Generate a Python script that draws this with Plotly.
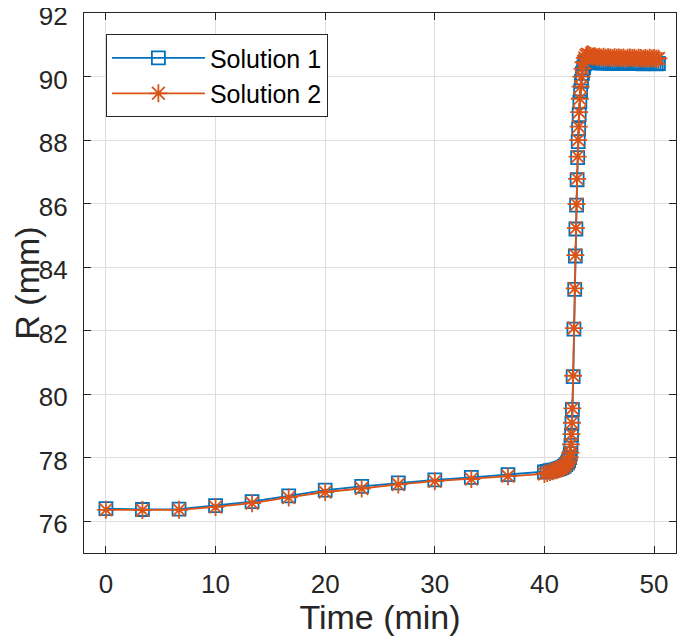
import plotly.graph_objects as go

time_min = [0, 3.33, 6.67, 10, 13.33, 16.67, 20, 23.33, 26.67, 30, 33.33, 36.67, 40,
            40.25, 40.5, 40.75, 41.0, 41.2, 41.4, 41.6, 41.8, 41.95, 42.1, 42.2, 42.3,
            42.36, 42.42, 42.47, 42.51, 42.55, 42.62, 42.69, 42.76, 42.82, 42.87, 42.93, 42.98,
            43.03, 43.08, 43.12, 43.17, 43.23, 43.30, 43.38, 43.47, 43.57, 43.68, 43.80, 43.92,
            44.05, 44.2, 44.4, 44.6, 44.8, 45.0, 45.2, 45.4, 45.6, 45.8, 46.0, 46.2, 46.4, 46.6,
            46.8, 47.0, 47.2, 47.4, 47.6, 47.8, 48.0, 48.2, 48.4, 48.6, 48.8, 49.0, 49.2, 49.4,
            49.6, 49.8, 50.0, 50.2, 50.4]

solution1 = [76.40, 76.37, 76.38, 76.49, 76.62, 76.80, 76.98, 77.10, 77.21, 77.30, 77.38, 77.47, 77.55,
             77.57, 77.59, 77.61, 77.62, 77.64, 77.66, 77.69, 77.73, 77.78, 77.84, 77.90, 78.00,
             78.13, 78.39, 78.71, 79.08, 79.52, 80.55, 82.05, 83.30, 84.35, 85.20, 85.95, 86.75,
             87.45, 87.95, 88.35, 88.80, 89.20, 89.55, 89.85, 90.10, 90.28, 90.40, 90.47, 90.50,
             90.48, 90.46, 90.44, 90.45, 90.43, 90.44, 90.42, 90.43, 90.44, 90.42, 90.43, 90.41,
             90.43, 90.42, 90.44, 90.42, 90.43, 90.41, 90.42, 90.43, 90.41, 90.42, 90.43, 90.41,
             90.42, 90.40, 90.42, 90.41, 90.43, 90.41, 90.42, 90.40, 90.41]

solution2 = [76.36, 76.35, 76.36, 76.45, 76.57, 76.75, 76.92, 77.03, 77.16, 77.26, 77.33, 77.42, 77.49,
             77.52, 77.55, 77.57, 77.60, 77.62, 77.65, 77.68, 77.72, 77.77, 77.84, 77.91, 78.02,
             78.15, 78.42, 78.74, 79.10, 79.55, 80.58, 82.08, 83.33, 84.38, 85.23, 85.98, 86.78,
             87.48, 88.00, 88.42, 88.88, 89.30, 89.68, 90.00, 90.25, 90.45, 90.58, 90.66, 90.70,
             90.68, 90.65, 90.62, 90.64, 90.61, 90.62, 90.60, 90.62, 90.59, 90.61, 90.60, 90.58,
             90.61, 90.59, 90.60, 90.58, 90.60, 90.57, 90.59, 90.60, 90.58, 90.59, 90.57, 90.59,
             90.58, 90.56, 90.58, 90.57, 90.59, 90.57, 90.58, 90.56, 90.57]

x_ticks = [0, 10, 20, 30, 40, 50]
y_ticks = [76, 78, 80, 82, 84, 86, 88, 90, 92]

BLUE = "#0072BD"
ORANGE = "#D95319"
AX = "#262626"
FONT = "Liberation Sans, Arial, Helvetica, sans-serif"

fig = go.Figure()
fig.add_trace(go.Scatter(
    x=time_min, y=solution1, name="Solution 1", mode="lines+markers",
    line=dict(color=BLUE, width=1.8),
    marker=dict(symbol="square-open", size=13, color=BLUE, line=dict(color=BLUE, width=1.8)),
))
fig.add_trace(go.Scatter(
    x=time_min, y=solution2, name="Solution 2", mode="lines+markers",
    line=dict(color=ORANGE, width=1.8),
    marker=dict(symbol="asterisk-open", size=15, color=ORANGE, line=dict(color=ORANGE, width=1.8)),
))

axis_common = dict(
    showline=True, linecolor=AX, linewidth=1.2, mirror="ticks",
    ticks="inside", ticklen=7, tickcolor=AX, tickwidth=1.2,
    showgrid=True, gridcolor="#dedede", gridwidth=1,
    zeroline=False, automargin=False, ticklabeloverflow="allow",
    tickfont=dict(family=FONT, size=26, color=AX),
    title_font=dict(family=FONT, size=34, color=AX),
)

fig.update_xaxes(range=[-2, 52], tickvals=x_ticks, title_text="Time (min)",
                 ticklabelstandoff=8, title_standoff=11, **axis_common)
fig.update_yaxes(range=[75, 92], tickvals=y_ticks, title_text="R (mm)",
                 ticklabelstandoff=10, ticklabelshift=3, title_standoff=0, **axis_common)

fig.update_layout(
    width=669, height=628,
    margin=dict(l=76, r=1, t=5, b=83),
    plot_bgcolor="white", paper_bgcolor="white",
    font=dict(family=FONT, color=AX),
    showlegend=True,
    legend=dict(
        x=0.037, y=0.961, xanchor="left", yanchor="top",
        bgcolor="white", bordercolor=AX, borderwidth=1,
        font=dict(family=FONT, size=25, color="black"),
        itemwidth=93, tracegroupgap=0,
    ),
)

fig.write_html("out.html")
